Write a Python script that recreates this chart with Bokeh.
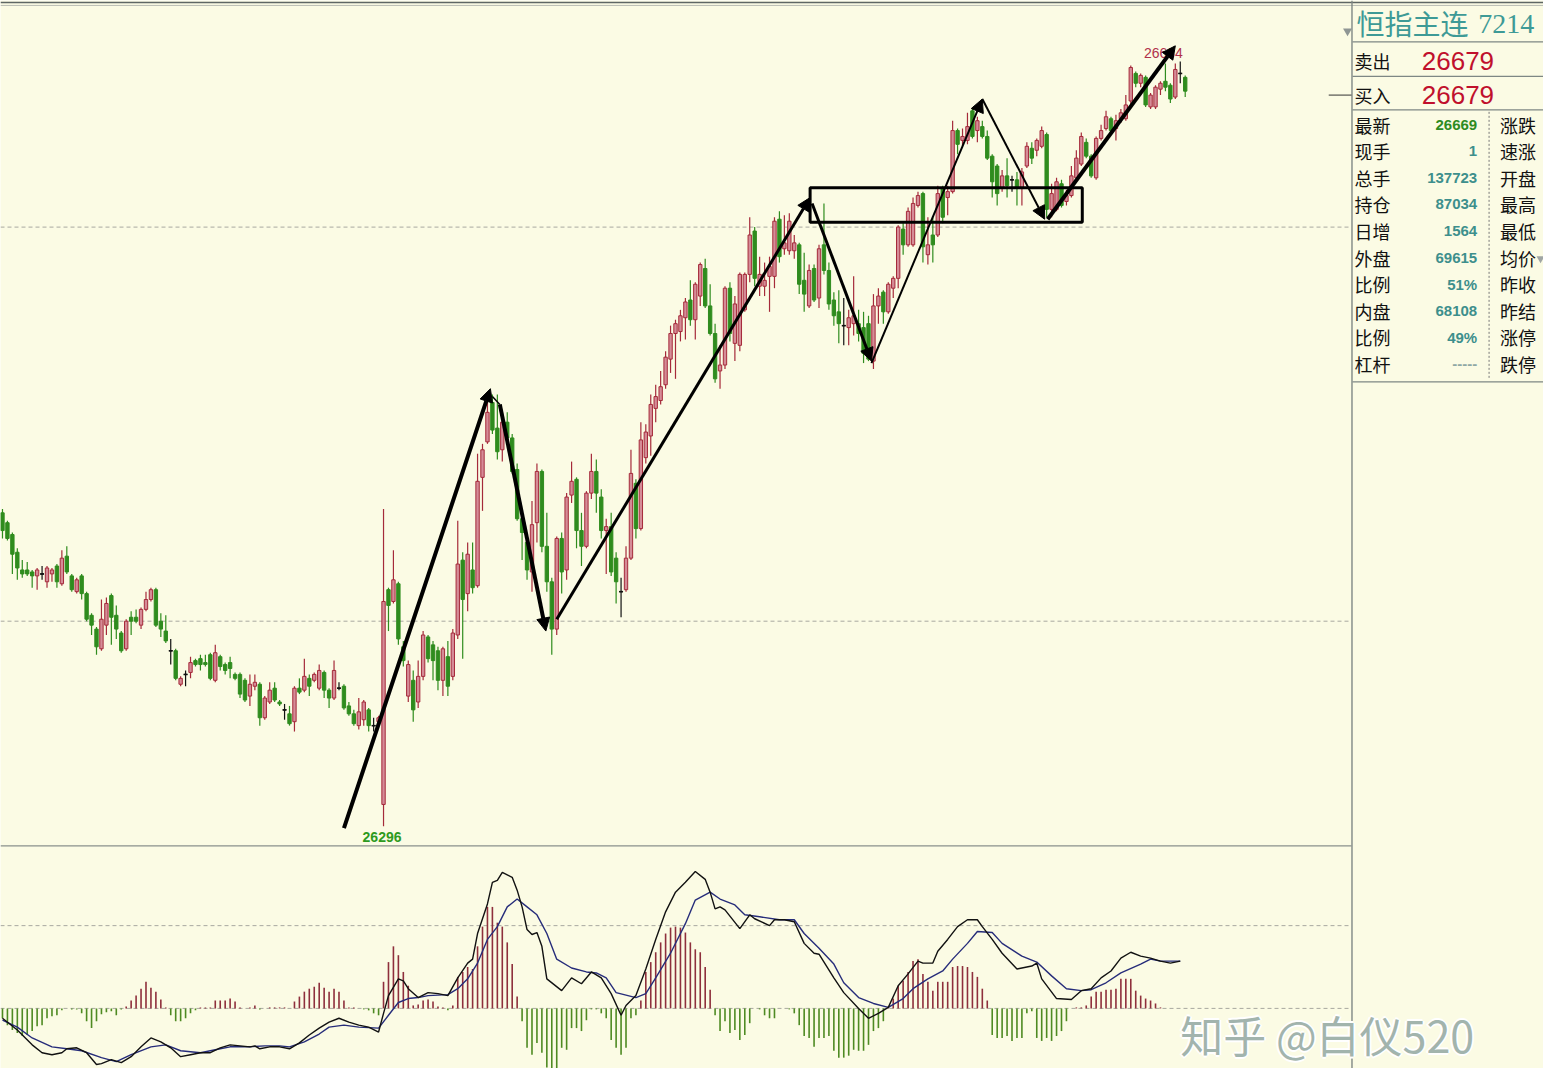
from bokeh.plotting import figure
from bokeh.models import Range1d, ColumnDataSource, Label, Arrow, NormalHead
from bokeh.embed import file_html
from bokeh.resources import INLINE

# ---------------- candle data (price) ----------------
opens = [
    26455, 26450, 26444, 26435, 26426, 26426, 26425, 26423, 26424, 26420,
    26424, 26428, 26419, 26433, 26423, 26415, 26423, 26414, 26403, 26396,
    26386, 26398, 26413, 26403, 26394, 26386, 26402, 26402, 26398, 26406,
    26411, 26416, 26400, 26395, 26385, 26385, 26368, 26373, 26374, 26380,
    26381, 26379, 26383, 26370, 26382, 26378, 26379, 26373, 26373, 26370,
    26362, 26367, 26368, 26351, 26359, 26366, 26359, 26355, 26353, 26349,
    26366, 26365, 26371, 26370, 26366, 26374, 26365, 26361, 26366, 26367,
    26357, 26353, 26347, 26350, 26355, 26347, 26349, 26307, 26416, 26410,
    26419, 26387, 26362, 26370, 26359, 26372, 26392, 26388, 26385, 26370,
    26382, 26372, 26393, 26431, 26414, 26426, 26418, 26473, 26491, 26511,
    26498, 26487, 26501, 26493, 26477, 26452, 26440, 26425, 26450, 26476,
    26438, 26420, 26396, 26442, 26426, 26464, 26472, 26446, 26438, 26465,
    26476, 26463, 26446, 26448, 26432, 26415, 26416, 26432, 26470, 26447,
    26483, 26494, 26508, 26512, 26520, 26533, 26546, 26547, 26554, 26563,
    26553, 26565, 26579, 26560, 26546, 26527, 26530, 26569, 26541, 26540,
    26558, 26576, 26598, 26570, 26570, 26575, 26575, 26604, 26589, 26588,
    26588, 26591, 26573, 26560, 26579, 26564, 26591, 26578, 26563, 26557,
    26550, 26549, 26551, 26551, 26549, 26551, 26532, 26560, 26567, 26557,
    26569, 26574, 26599, 26591, 26591, 26611, 26617, 26586, 26596, 26596,
    26620, 26615, 26618, 26649, 26644, 26644, 26659, 26649, 26651, 26646,
    26636, 26631, 26620, 26626, 26624, 26624, 26620, 26631, 26640, 26639,
    26641, 26647, 26609, 26609, 26622, 26613, 26616, 26625, 26632, 26643,
    26636, 26625, 26645, 26650, 26655, 26650, 26655, 26655, 26664, 26678,
    26673, 26676, 26661, 26661, 26670, 26674, 26672, 26666, 26678, 26676,
]
highs = [
    26457, 26451, 26445, 26437, 26431, 26430, 26426, 26427, 26428, 26428,
    26427, 26429, 26436, 26438, 26424, 26422, 26424, 26415, 26404, 26397,
    26411, 26412, 26414, 26408, 26395, 26401, 26405, 26406, 26407, 26415,
    26417, 26417, 26404, 26403, 26391, 26386, 26372, 26375, 26382, 26381,
    26383, 26383, 26384, 26388, 26383, 26379, 26382, 26374, 26374, 26371,
    26373, 26373, 26369, 26362, 26369, 26369, 26360, 26358, 26357, 26367,
    26371, 26381, 26373, 26374, 26378, 26375, 26366, 26380, 26369, 26368,
    26359, 26355, 26361, 26360, 26356, 26351, 26352, 26457, 26417, 26436,
    26420, 26390, 26380, 26375, 26380, 26395, 26393, 26390, 26387, 26387,
    26390, 26396, 26451, 26435, 26440, 26440, 26485, 26490, 26516, 26515,
    26515, 26506, 26506, 26495, 26480, 26455, 26445, 26461, 26480, 26477,
    26455, 26422, 26443, 26445, 26465, 26481, 26473, 26455, 26466, 26485,
    26482, 26467, 26452, 26455, 26435, 26422, 26438, 26487, 26472, 26501,
    26500, 26515, 26520, 26527, 26537, 26550, 26553, 26558, 26564, 26573,
    26572, 26582, 26584, 26571, 26551, 26540, 26570, 26572, 26565, 26577,
    26577, 26605, 26600, 26585, 26582, 26585, 26605, 26608, 26606, 26607,
    26596, 26592, 26587, 26581, 26581, 26591, 26612, 26582, 26567, 26568,
    26564, 26558, 26575, 26558, 26557, 26555, 26566, 26569, 26568, 26572,
    26575, 26601, 26602, 26610, 26615, 26618, 26618, 26605, 26605, 26621,
    26621, 26621, 26654, 26650, 26650, 26658, 26660, 26656, 26654, 26649,
    26637, 26632, 26629, 26635, 26626, 26628, 26630, 26643, 26643, 26645,
    26651, 26648, 26622, 26625, 26624, 26619, 26631, 26639, 26648, 26645,
    26637, 26646, 26652, 26659, 26656, 26657, 26660, 26667, 26682, 26679,
    26678, 26677, 26668, 26672, 26674, 26683, 26673, 26683, 26684, 26677,
]
lows = [
    26442, 26441, 26424, 26421, 26422, 26423, 26417, 26416, 26421, 26417,
    26420, 26417, 26418, 26424, 26415, 26414, 26411, 26400, 26393, 26383,
    26385, 26393, 26388, 26391, 26384, 26385, 26393, 26399, 26396, 26405,
    26410, 26397, 26392, 26389, 26378, 26370, 26367, 26367, 26371, 26377,
    26375, 26377, 26370, 26369, 26375, 26373, 26371, 26370, 26361, 26359,
    26357, 26365, 26347, 26350, 26358, 26359, 26357, 26350, 26347, 26344,
    26363, 26364, 26362, 26369, 26365, 26361, 26356, 26360, 26365, 26355,
    26352, 26347, 26345, 26347, 26344, 26344, 26348, 26296, 26395, 26409,
    26388, 26377, 26359, 26349, 26356, 26370, 26379, 26370, 26365, 26362,
    26362, 26370, 26391, 26381, 26405, 26414, 26417, 26456, 26490, 26495,
    26482, 26481, 26490, 26475, 26451, 26431, 26421, 26415, 26440, 26435,
    26415, 26383, 26393, 26414, 26421, 26460, 26437, 26428, 26437, 26462,
    26455, 26442, 26424, 26423, 26409, 26402, 26415, 26431, 26442, 26446,
    26480, 26484, 26501, 26510, 26518, 26526, 26523, 26542, 26543, 26550,
    26543, 26560, 26559, 26545, 26521, 26518, 26528, 26542, 26532, 26537,
    26557, 26572, 26570, 26565, 26565, 26557, 26569, 26582, 26586, 26586,
    26584, 26566, 26557, 26559, 26562, 26559, 26576, 26558, 26550, 26541,
    26540, 26540, 26545, 26542, 26531, 26532, 26528, 26551, 26551, 26556,
    26564, 26569, 26586, 26590, 26590, 26610, 26582, 26581, 26582, 26595,
    26602, 26606, 26617, 26637, 26641, 26642, 26645, 26643, 26645, 26634,
    26615, 26611, 26618, 26615, 26618, 26611, 26611, 26630, 26632, 26636,
    26640, 26605, 26605, 26608, 26610, 26611, 26615, 26624, 26631, 26635,
    26625, 26624, 26644, 26649, 26647, 26644, 26653, 26654, 26662, 26671,
    26671, 26661, 26660, 26660, 26667, 26669, 26663, 26665, 26673, 26666,
]
closes = [
    26446, 26442, 26434, 26427, 26424, 26424, 26423, 26426, 26424, 26427,
    26426, 26420, 26432, 26425, 26416, 26421, 26414, 26401, 26398, 26387,
    26401, 26409, 26402, 26396, 26385, 26400, 26400, 26400, 26406, 26411,
    26416, 26398, 26396, 26390, 26385, 26371, 26371, 26373, 26379, 26378,
    26378, 26378, 26371, 26384, 26377, 26375, 26376, 26371, 26363, 26360,
    26368, 26369, 26351, 26361, 26365, 26360, 26358, 26355, 26348, 26366,
    26364, 26372, 26367, 26373, 26375, 26365, 26361, 26375, 26366, 26356,
    26353, 26348, 26354, 26359, 26347, 26347, 26351, 26410, 26408, 26421,
    26391, 26380, 26378, 26355, 26372, 26393, 26381, 26380, 26370, 26386,
    26367, 26394, 26429, 26411, 26434, 26417, 26471, 26487, 26506, 26497,
    26486, 26501, 26493, 26476, 26452, 26445, 26426, 26449, 26476, 26438,
    26420, 26396, 26442, 26425, 26463, 26471, 26446, 26438, 26465, 26476,
    26465, 26446, 26448, 26425, 26420, 26415, 26432, 26475, 26447, 26492,
    26496, 26510, 26514, 26519, 26534, 26546, 26551, 26555, 26562, 26553,
    26571, 26581, 26560, 26546, 26523, 26530, 26569, 26546, 26561, 26576,
    26576, 26596, 26574, 26576, 26573, 26580, 26603, 26585, 26592, 26603,
    26592, 26571, 26566, 26578, 26563, 26589, 26578, 26561, 26555, 26551,
    26550, 26554, 26555, 26546, 26536, 26533, 26560, 26565, 26557, 26571,
    26574, 26600, 26591, 26608, 26612, 26616, 26590, 26591, 26591, 26617,
    26605, 26618, 26649, 26642, 26646, 26651, 26646, 26654, 26646, 26635,
    26623, 26617, 26626, 26621, 26624, 26620, 26628, 26641, 26635, 26644,
    26649, 26609, 26617, 26623, 26611, 26616, 26626, 26635, 26646, 26636,
    26626, 26645, 26649, 26656, 26649, 26654, 26658, 26662, 26681, 26673,
    26677, 26662, 26667, 26671, 26673, 26671, 26665, 26680, 26678, 26669,
]

# ---------------- MACD data ----------------
macd_hist = [
    -10, -17, -22, -25, -28, -27, -23, -18, -17, -10,
    -8, -7, -2, 0, -1, -1, -5, -13, -20, -13,
    -6, -4, -3, -7, -1, 2, 8, 13, 20, 27,
    21, 17, 9, 1, -7, -13, -13, -10, -5, -2,
    1, 1, 1, 8, 8, 8, 10, 7, 1, 0,
    1, 3, -1, 0, 1, 1, 1, 1, 0, 7,
    12, 17, 20, 22, 26, 21, 17, 20, 17, 8,
    1, 1, 0, -1, -2, -5, -7, 27, 47, 63,
    54, 37, 23, 3, 4, 8, 9, 7, 2, 1,
    -2, 3, 32, 37, 42, 40, 63, 83, 103, 103,
    87, 83, 67, 45, 12, -13, -40, -47, -35, -45,
    -60, -61, -61, -40, -42, -20, -20, -23, -12, -1,
    -1, -5, -10, -32, -40, -47, -40, -10, -7, 8,
    37, 47, 57, 67, 76, 82, 83, 82, 77, 67,
    60, 57, 42, 19, -7, -23, -13, -25, -22, -32,
    -27, -15, 0, -1, -7, -10, -10, 0, 0, -1,
    -5, -17, -28, -30, -39, -30, -30, -28, -43, -50,
    -50, -48, -42, -43, -43, -37, -23, -20, -13, 2,
    10, 23, 28, 37, 48, 50, 35, 27, 18, 27,
    27, 27, 42, 43, 43, 42, 37, 32, 20, 8,
    -27, -30, -30, -28, -33, -30, -30, -5, -3, -30,
    -33, -30, -33, -28, -23, -13, 0, 1, 1, 3,
    12, 17, 17, 19, 19, 20, 30, 30, 30, 18,
    13, 10, 8, 5, 1, 0, 0, 0, 0, 0,
]
dif_at = [0, 3, 6, 8, 10, 12, 13, 15, 17, 19, 20, 22, 24, 26, 28, 30, 32, 34, 36, 38,
          40, 42, 44, 46, 48, 50, 51, 52, 54, 56, 58, 60, 62, 64, 66, 68, 70, 72, 74, 76,
          77, 78, 80, 81, 82, 84, 86, 88, 90, 92, 94, 95, 96, 98, 99, 100, 101, 103, 104, 105,
          106, 107, 108, 109, 110, 113, 115, 117, 119, 121, 123, 125, 126, 128, 130, 132, 134, 136, 138, 140,
          142, 143, 144, 145, 146, 149, 151, 152, 155, 156, 158, 160, 162, 164, 165, 168, 170, 173, 175, 177,
          179, 181, 183, 185, 186, 188, 189, 191, 193, 195, 197, 198, 200, 202, 205, 208, 209, 210, 213, 216,
          218, 220, 222, 224, 226, 228, 230, 232, 234, 236, 238]
dif_val = [-10, -22, -37, -45, -47, -45, -41, -40, -45, -57, -56, -52, -55, -49, -39, -30, -34, -40, -49, -47,
           -45, -45, -40, -37, -38, -39, -38, -41, -39, -39, -41, -35, -27, -20, -14, -10, -14, -17, -19, -24,
           -5, 13, 30, 28, 20, 11, 16, 15, 13, 31, 46, 50, 76, 106, 128, 130, 138, 133, 120, 103,
           80, 75, 77, 63, 30, 18, 31, 25, 37, 31, 15, -7, 3, 13, 40, 70, 98, 118, 128, 139,
           131, 118, 101, 103, 100, 81, 95, 91, 84, 90, 90, 88, 66, 56, 55, 31, 16, 0, -10, -5,
           1, 23, 35, 48, 46, 46, 58, 70, 83, 90, 90, 83, 70, 56, 40, 43, 46, 30, 10, 9,
           18, 20, 31, 38, 51, 57, 53, 51, 48, 46, 48]
dea_at = [0, 3, 6, 10, 13, 16, 20, 23, 26, 30, 33, 36, 40, 43, 46, 50, 53, 56, 58, 61,
          64, 66, 69, 72, 76, 78, 80, 82, 84, 86, 90, 92, 94, 96, 98, 100, 102, 104, 106, 108,
          110, 112, 115, 118, 120, 122, 124, 128, 130, 132, 135, 138, 140, 143, 145, 148, 150, 153, 157, 160,
          162, 165, 168, 170, 173, 176, 179, 182, 184, 187, 190, 192, 195, 197, 200, 202, 206, 209, 212, 215,
          218, 220, 223, 226, 230, 232, 234, 238]
dea_val = [-12, -19, -30, -39, -41, -43, -50, -54, -47, -39, -37, -43, -45, -42, -39, -39, -38, -38, -39, -34,
           -26, -19, -17, -19, -20, -7, 6, 10, 11, 13, 14, 20, 30, 46, 70, 83, 103, 111, 103, 95,
           76, 50, 41, 37, 36, 31, 16, 11, 15, 31, 56, 86, 110, 118, 111, 105, 95, 93, 90, 90,
           76, 61, 45, 26, 11, 5, 1, 10, 20, 30, 38, 50, 66, 78, 77, 66, 53, 47, 33, 20,
           18, 19, 26, 36, 45, 50, 48, 48]
macd_levels = [0, 84]
price_levels = [26400, 26600]

# trend annotations: (index_start, price_start, index_end, price_end, width)
trend_arrows = [
    (69.0, 26295, 98.6, 26518, 4),
    (100.5, 26510, 109.8, 26395, 4),
    (112.0, 26401, 163.2, 26615, 3),
    (163.6, 26612, 175.6, 26532, 3),
    (175.6, 26531, 198.0, 26665, 2),
    (198.0, 26665, 210.6, 26604, 2),
    (211.2, 26604, 237.0, 26692, 4),
]
range_box = (163.2, 218.2, 26602.5, 26620)

# info panel
title_name = "恒指主连"
title_code = "7214"
ask_label, ask_price = "卖出", "26679"
bid_label, bid_price = "买入", "26679"
rows_left = ["最新", "现手", "总手", "持仓", "日增", "外盘", "比例", "内盘", "比例", "杠杆"]
rows_value = ["26669", "1", "137723", "87034", "1564", "69615", "51%", "68108", "49%", "-----"]
rows_right = ["涨跌", "速涨", "开盘", "最高", "最低", "均价", "昨收", "昨结", "涨停", "跌停"]
watermark = "知乎 @白仪520"

# ---------------- figure ----------------
BG = "#FBFBE4"
W, H = 1543, 1068
# reference pixel -> data helpers (layout only)
def dx(x):
    return (x - 2) / 5.0
def dy(y):
    return 26715 - y / 2.0
def my(y):
    return 1023 - y

p = figure(width=W, height=H, x_range=Range1d(dx(0), dx(1559)), y_range=Range1d(dy(1084), dy(0)),
           min_border=0, toolbar_location=None, output_backend="svg",
           x_axis_location=None, y_axis_location=None)
p.extra_y_ranges = {"macd": Range1d(my(1084), my(0))}
p.grid.visible = False
p.outline_line_color = None
p.background_fill_color = BG
p.border_fill_color = BG

CHART_R = dx(1365)

# gridlines (dashed)
for lv in price_levels:
    p.segment(x0=dx(0), y0=lv, x1=CHART_R, y1=lv, line_color="#A8A8A0", line_dash="4 3", line_width=1)
for lv in macd_levels:
    p.segment(x0=dx(0), y0=lv, x1=CHART_R, y1=lv, line_color="#A8A8A0", line_dash="4 3", line_width=1,
              y_range_name="macd")

# candles
n = len(closes)
idx = list(range(n))
RED_LINE, RED_FILL, GREEN, BLACK = "#A52A3A", "#D58C97", "#2F8C1E", "#111111"
wick_col, body_fill, body_line = [], [], []
for o, c in zip(opens, closes):
    if c > o:
        wick_col.append(RED_LINE); body_fill.append(RED_FILL); body_line.append(RED_LINE)
    elif c < o:
        wick_col.append(GREEN); body_fill.append(GREEN); body_line.append(GREEN)
    else:
        wick_col.append(BLACK); body_fill.append(BLACK); body_line.append(BLACK)
src = ColumnDataSource(dict(
    x=idx, o=opens, h=highs, l=lows, c=closes,
    top=[max(o, c) for o, c in zip(opens, closes)],
    bot=[min(o, c) for o, c in zip(opens, closes)],
    wc=wick_col, bf=body_fill, bl=body_line,
))
p.segment(x0="x", y0="h", x1="x", y1="l", line_color="wc", line_width=1.2, source=src)
p.vbar(x="x", width=0.68, top="top", bottom="bot", fill_color="bf", line_color="bl", line_width=1, source=src)
doji = [i for i in idx if opens[i] == closes[i]]
p.segment(x0=[i - 0.4 for i in doji], y0=[opens[i] for i in doji], x1=[i + 0.4 for i in doji],
          y1=[opens[i] for i in doji], line_color=BLACK, line_width=1.5)

# extreme labels
lo_i = min(idx, key=lambda i: lows[i])
hi_i = max(idx, key=lambda i: highs[i])
p.add_layout(Label(x=lo_i - 0.3, y=lows[lo_i] - 5.5, text=str(lows[lo_i]), text_align="center",
                   text_baseline="middle", text_font="Liberation Sans", text_font_size="14px",
                   text_font_style="bold", text_color="#2E9A1E"))
p.add_layout(Label(x=hi_i - 3.4, y=highs[hi_i] + 4.5, text=str(highs[hi_i]), text_align="center",
                   text_baseline="middle", text_font="Liberation Sans", text_font_size="14px",
                   text_color="#B0304A"))

# MACD histogram + lines
hcol = ["#8E2F3C" if v > 0 else "#4E8A22" for v in macd_hist]
p.segment(x0=idx, y0=[0] * n, x1=idx, y1=macd_hist, line_color=hcol, line_width=1.6, y_range_name="macd")
p.line(dea_at, dea_val, line_color="#262C7A", line_width=1.4, y_range_name="macd")
p.line(dif_at, dif_val, line_color="#111111", line_width=1.4, y_range_name="macd")

# annotations
for x0, y0, x1, y1, w in trend_arrows:
    p.add_layout(Arrow(end=NormalHead(size=13, fill_color="black", line_color="black", line_width=1),
                       x_start=x0, y_start=y0, x_end=x1, y_end=y1, line_width=w, line_color="black"))
p.segment(x0=[99.0], y0=[26514], x1=[100.5], y1=[26510], line_color="black", line_width=1.5)
bl, br, bb, bt = range_box
p.quad(left=[bl], right=[br], bottom=[bb], top=[bt], fill_alpha=0, line_color="black", line_width=3)

# ---------------- frame lines ----------------
def hline(y, x0, x1, color="#7E8784", w=1.2, dash="solid"):
    p.segment(x0=dx(x0), y0=dy(y), x1=dx(x1), y1=dy(y), line_color=color, line_width=w, line_dash=dash)
def vline(x, y0, y1, color="#7E8784", w=1.2, dash="solid"):
    p.segment(x0=dx(x), y0=dy(y0), x1=dx(x), y1=dy(y1), line_color=color, line_width=w, line_dash=dash)

hline(2, 0, 1559, "#5E6664", 1.5)
hline(5, 0, 1559, "#B9BDB4", 1)
hline(858, 0, 1365, "#8A908C", 1.2)
vline(1365.5, 0, 1084, "#7E8784", 1.4)
hline(42, 1366, 1559)
hline(77, 1366, 1559)
hline(111, 1366, 1559)
hline(387, 1366, 1559)
vline(1504, 113, 383, "#777777", 1, "2 2")
hline(96, 1342, 1365, "#333333", 1)
p.scatter(x=[dx(1361)], y=[dy(31)], marker="triangle", size=9, angle=3.1416, fill_color="#8F9694",
          line_color=None)
p.scatter(x=[dx(1556)], y=[dy(262)], marker="triangle", size=8, angle=3.1416, fill_color="#A0A6A4",
          line_color=None)

# ---------------- info panel text ----------------
CJK = "Noto Sans CJK SC"
def lab(x, y, t, size, color, font=CJK, align="left", style="normal"):
    p.add_layout(Label(x=dx(x), y=dy(y), text=t, text_font=font, text_font_size=size, text_color=color,
                       text_align=align, text_baseline="middle", text_font_style=style))

lab(1370, 23, title_name, "28px", "#3E9A96")
lab(1493, 24, title_code, "28px", "#3E9A96", font="Liberation Serif")
lab(1368, 61, ask_label, "18px", "#111111")
lab(1436, 61, ask_price, "26px", "#C0102C", font="Liberation Sans")
lab(1368, 96, bid_label, "18px", "#111111")
lab(1436, 96, bid_price, "26px", "#C0102C", font="Liberation Sans")
for k in range(len(rows_left)):
    y = 126 + 27 * k
    lab(1368, y, rows_left[k], "18px", "#111111")
    vc = "#2E8B22" if k == 0 else ("#8FA8A4" if rows_value[k].startswith("-") else "#3D8F8C")
    lab(1492, y, rows_value[k], "15px", vc, font="Liberation Sans", align="right", style="bold")
    lab(1515, y, rows_right[k], "18px", "#111111")

# watermark with light outline
for ox, oy in [(-2, 0), (2, 0), (0, -2), (0, 2)]:
    p.add_layout(Label(x=dx(1192), y=dy(1049), text=watermark, text_font=CJK, text_font_size="43px",
                       text_color="white", text_baseline="middle", x_offset=ox, y_offset=oy))
p.add_layout(Label(x=dx(1192), y=dy(1049), text=watermark, text_font=CJK, text_font_size="43px",
                   text_color="#A2B4AD", text_baseline="middle"))

open("out.html", "w").write(file_html(p, INLINE))
